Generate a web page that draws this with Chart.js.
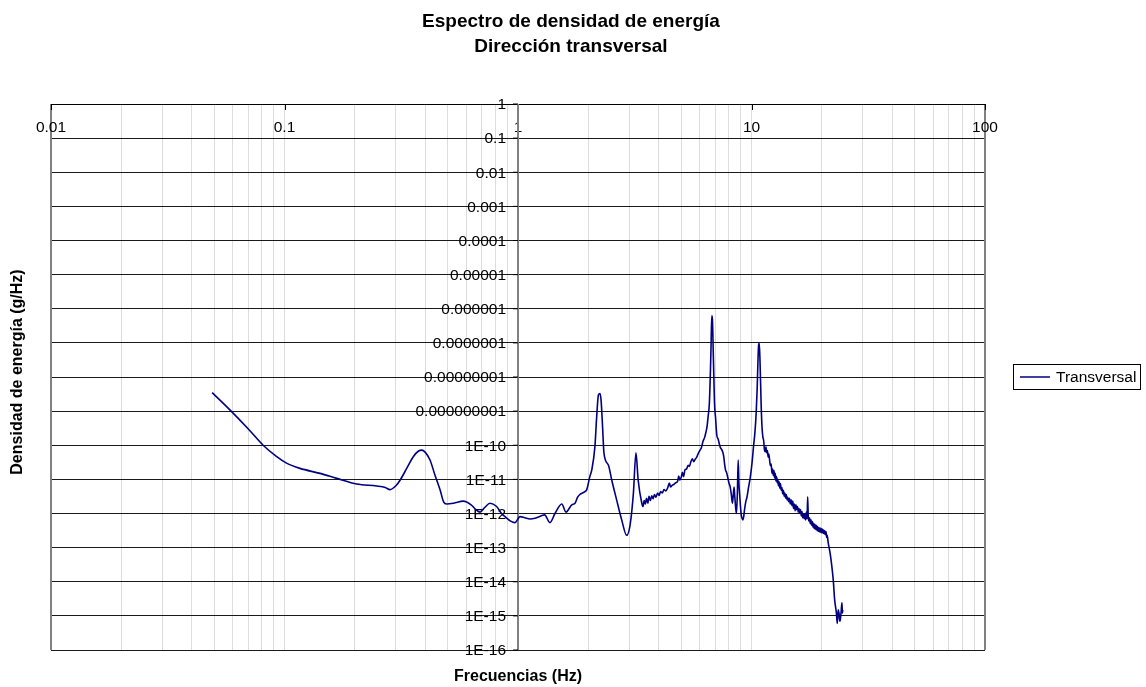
<!DOCTYPE html>
<html>
<head>
<meta charset="utf-8">
<title>Espectro de densidad de energía</title>
<script src="https://cdn.jsdelivr.net/npm/chart.js@4.4.0/dist/chart.umd.min.js"></script>
<style>
  html, body { margin: 0; padding: 0; background: #fff; }
  #wrap { width: 1146px; height: 687px; }
</style>
</head>
<body>
<div id="wrap"><canvas id="psdChart" width="1146" height="687"></canvas></div>
<script>
// Frequencies (Hz) and power spectral density (g/Hz), transverse direction
const freq = [
  0.049, 0.0585, 0.07, 0.081, 0.092, 0.102, 0.1165, 0.142, 0.1675, 0.204,
  0.248, 0.27, 0.283, 0.30, 0.313, 0.335, 0.356, 0.375, 0.387, 0.40,
  0.42, 0.44, 0.464, 0.48, 0.495, 0.53, 0.583, 0.63, 0.66, 0.688,
  0.72, 0.759, 0.81, 0.85, 0.88, 0.93, 0.97, 1.02, 1.07, 1.125,
  1.2, 1.30, 1.37, 1.44, 1.54, 1.605, 1.70, 1.755, 1.80, 1.84,
  1.935, 1.97, 2.03, 2.07, 2.135, 2.17, 2.21, 2.245, 2.27, 2.3,
  2.335, 2.44, 2.52, 2.645, 2.78, 2.92, 3.02, 3.12, 3.2, 3.27,
  3.39, 3.43, 3.47, 3.51, 3.55, 3.6, 3.64, 3.69, 3.74, 3.79,
  3.84, 3.9, 3.96, 4.02, 4.08, 4.15, 4.22, 4.3, 4.38, 4.45,
  4.5, 4.58, 4.66, 4.74, 4.82, 4.88, 4.93, 5.0, 5.06, 5.12,
  5.19, 5.27, 5.35, 5.42, 5.5, 5.58, 5.66, 5.74, 5.82, 5.9,
  6.02, 6.1, 6.2, 6.3, 6.38, 6.45, 6.52, 6.6, 6.67, 6.71,
  6.76, 6.8, 6.87, 6.94, 7.02, 7.1, 7.2, 7.28, 7.36, 7.45,
  7.52, 7.6, 7.68, 7.74, 7.82, 7.9, 8.0, 8.1, 8.2, 8.28,
  8.34, 8.42, 8.48, 8.56, 8.62, 8.7, 8.77, 8.83, 8.89, 8.96,
  9.04, 9.11, 9.18, 9.26, 9.35, 9.45, 9.57, 9.7, 9.89, 10.05,
  10.2, 10.35, 10.47, 10.58, 10.65, 10.72, 10.79, 10.86, 10.93, 11.0,
  11.09, 11.18, 11.27, 11.36, 11.46, 11.53, 11.6, 11.7, 11.78, 11.86,
  11.95, 12.05, 12.14, 12.24, 12.32, 12.4, 12.48, 12.56, 12.64, 12.72,
  12.8, 12.88, 12.96, 13.05, 13.14, 13.22, 13.3, 13.4, 13.5, 13.6,
  13.7, 13.8, 13.9, 14.0, 14.1, 14.2, 14.3, 14.42, 14.54, 14.66,
  14.78, 14.9, 15.02, 15.14, 15.26, 15.38, 15.5, 15.62, 15.74, 15.86,
  15.98, 16.1, 16.22, 16.34, 16.46, 16.58, 16.7, 16.82, 16.94, 17.06,
  17.18, 17.3, 17.4, 17.5, 17.62, 17.74, 17.86, 17.98, 18.1, 18.22,
  18.34, 18.46, 18.58, 18.7, 18.82, 18.94, 19.06, 19.18, 19.3, 19.42,
  19.54, 19.66, 19.78, 19.9, 20.02, 20.14, 20.26, 20.38, 20.5, 20.62,
  20.74, 20.86, 20.98, 21.1, 21.3, 21.5, 21.7, 22.0, 22.4, 22.7,
  23.1, 23.3, 23.5, 23.7, 23.9, 24.0, 24.2, 24.4, 24.5, 24.6
];
const psd = [
  3.5e-9, 1.07e-9, 3.0e-10, 1.0e-10, 4.8e-11, 3.0e-11, 2.1e-11, 1.5e-11, 1.07e-11, 7.3e-12,
  6.4e-12, 5.8e-12, 5.0e-12, 6.5e-12, 9.6e-12, 2.2e-11, 4.6e-11, 6.8e-11, 7.2e-11, 6.3e-11,
  3.7e-11, 1.4e-11, 4.9e-12, 2.2e-12, 1.9e-12, 2.0e-12, 2.3e-12, 1.8e-12, 1.3e-12, 1.1e-12,
  1.5e-12, 2.0e-12, 1.6e-12, 1.0e-12, 8.1e-13, 6.0e-13, 5.4e-13, 8.1e-13, 7.5e-13, 6.9e-13,
  7.5e-13, 9.1e-13, 5.4e-13, 1.0e-12, 1.9e-12, 1.1e-12, 1.8e-12, 2.0e-12, 3.0e-12, 3.6e-12,
  4.4e-12, 5.0e-12, 1.2e-11, 1.9e-11, 9.1e-11, 6.0e-10, 2.97e-9, 3.3e-9, 2.0e-9, 4.0e-10,
  5.8e-11, 2.6e-11, 9.6e-12, 2.5e-12, 6.5e-13, 2.3e-13, 4.6e-13, 3.9e-12, 6.0e-11, 9.6e-12,
  2.0e-12, 1.6e-12, 2.4e-12, 1.9e-12, 2.8e-12, 2.0e-12, 3.2e-12, 2.4e-12, 3.3e-12, 2.7e-12,
  3.6e-12, 3.0e-12, 4.0e-12, 3.4e-12, 4.4e-12, 4.0e-12, 5.0e-12, 4.6e-12, 5.8e-12, 7.8e-12,
  6.0e-12, 6.8e-12, 7.2e-12, 8.0e-12, 8.6e-12, 1.25e-11, 9.5e-12, 1.15e-11, 1.6e-11, 1.2e-11,
  1.9e-11, 2.0e-11, 2.6e-11, 2.4e-11, 3.3e-11, 4.0e-11, 3.3e-11, 3.9e-11, 4.4e-11, 5.5e-11,
  7.2e-11, 8.5e-11, 1.3e-10, 1.7e-10, 2.4e-10, 3.5e-10, 7.0e-10, 1.7e-9, 1.5e-8, 7.7e-8,
  6.2e-7, 5.0e-7, 3.2e-8, 1.9e-9, 6.0e-10, 2.0e-10, 1.5e-10, 1.1e-10, 8.5e-11, 7.5e-11,
  6.5e-11, 4.8e-11, 2.6e-11, 1.9e-11, 1.6e-11, 1.2e-11, 8.0e-12, 6.1e-12, 3.5e-12, 2.0e-12,
  3.0e-12, 6.0e-12, 3.2e-12, 1.4e-12, 1.0e-12, 4.0e-12, 3.7e-11, 8.0e-12, 3.9e-12, 1.8e-12,
  9.0e-13, 7.2e-13, 6.5e-13, 8.1e-13, 1.4e-12, 2.2e-12, 3.1e-12, 5.5e-12, 1.2e-11, 3.0e-11,
  9.1e-11, 2.5e-10, 8.7e-10, 5.0e-9, 2.5e-8, 8.0e-8, 9.8e-8, 4.0e-8, 8.1e-9, 1.5e-9,
  3.5e-10, 1.8e-10, 1.4e-10, 7.5e-11, 6.5e-11, 9.0e-11, 6.0e-11, 7.0e-11, 4.5e-11, 5.5e-11,
  3.8e-11, 2.5e-11, 2.8e-11, 1.5e-11, 2.0e-11, 1.3e-11, 1.8e-11, 1.1e-11, 1.5e-11, 9.0e-12,
  1.2e-11, 8.0e-12, 1.0e-11, 6.5e-12, 8.5e-12, 5.5e-12, 7.5e-12, 4.8e-12, 5.8e-12, 3.8e-12,
  4.8e-12, 3.2e-12, 4.0e-12, 2.8e-12, 3.6e-12, 2.5e-12, 3.0e-12, 2.2e-12, 2.8e-12, 1.9e-12,
  2.5e-12, 1.7e-12, 2.3e-12, 1.4e-12, 1.9e-12, 1.2e-12, 1.8e-12, 1.3e-12, 1.6e-12, 1.1e-12,
  1.4e-12, 1.0e-12, 1.3e-12, 8.5e-13, 1.15e-12, 7.5e-13, 1.0e-12, 7.0e-13, 9.5e-13, 6.5e-13,
  1.1e-12, 7.0e-13, 3.1e-12, 8.0e-13, 6.0e-13, 7.5e-13, 5.0e-13, 6.5e-13, 4.5e-13, 5.8e-13,
  4.0e-13, 5.2e-13, 3.6e-13, 4.8e-13, 3.4e-13, 4.5e-13, 3.2e-13, 4.2e-13, 3.0e-13, 3.9e-13,
  2.9e-13, 3.8e-13, 2.8e-13, 3.6e-13, 2.7e-13, 3.5e-13, 2.6e-13, 3.3e-13, 2.5e-13, 3.1e-13,
  2.4e-13, 2.9e-13, 2.0e-13, 2.3e-13, 1.4e-13, 1.0e-13, 7.0e-14, 3.5e-14, 1.1e-14, 3.0e-15,
  1.2e-15, 6.0e-16, 1.5e-15, 1.2e-15, 7.0e-16, 7.6e-16, 1.3e-15, 2.4e-15, 1.2e-15, 1.5e-15
];

// Axis ticks
const xMajor = [0.01, 0.1, 1, 10, 100];
const xMajorLabels = ['0.01', '0.1', '1', '10', '100'];
const yMajor = [1, 1e-1, 1e-2, 1e-3, 1e-4, 1e-5, 1e-6, 1e-7, 1e-8, 1e-9,
                1e-10, 1e-11, 1e-12, 1e-13, 1e-14, 1e-15, 1e-16];
const yMajorLabels = ['1', '0.1', '0.01', '0.001', '0.0001', '0.00001', '0.000001',
                      '0.0000001', '0.00000001', '0.000000001', '1E-10', '1E-11',
                      '1E-12', '1E-13', '1E-14', '1E-15', '1E-16'];

const FONT = '"Liberation Sans", Arial, sans-serif';

// vertical grid at 1..9 of every decade
const xGrid = [];
for (let d = -2; d < 2; d++) {
  for (let m = 1; m < 10; m++) xGrid.push(m * Math.pow(10, d));
}
xGrid.push(100);

const axesPlugin = {
  id: 'excelAxes',
  beforeDatasetsDraw(chart) {
    const { ctx, chartArea: a, scales: { x, y } } = chart;
    const x1 = Math.round(x.getPixelForValue(1));
    ctx.save();

    // plot frame
    ctx.strokeStyle = '#808080';
    ctx.lineWidth = 2;
    ctx.beginPath();
    ctx.moveTo(a.left, a.top); ctx.lineTo(a.left, a.bottom);
    ctx.moveTo(a.right, a.top); ctx.lineTo(a.right, a.bottom);
    ctx.stroke();

    // x axis sits on y = 1 (top edge)
    ctx.strokeStyle = '#000';
    ctx.lineWidth = 1;
    ctx.beginPath();
    ctx.moveTo(a.left, a.top + 0.5); ctx.lineTo(a.right, a.top + 0.5);
    xMajor.forEach(v => {
      const px = Math.round(x.getPixelForValue(v)) + 0.5;
      ctx.moveTo(px, a.top); ctx.lineTo(px, a.top + 6);
    });
    ctx.stroke();

    ctx.fillStyle = '#000';
    ctx.font = '15.5px ' + FONT;
    ctx.textAlign = 'center';
    ctx.textBaseline = 'middle';
    xMajor.forEach((v, i) => {
      ctx.fillText(xMajorLabels[i], x.getPixelForValue(v), a.top + 24);
    });

    // y axis crosses at x = 1
    ctx.strokeStyle = '#808080';
    ctx.lineWidth = 2;
    ctx.beginPath();
    ctx.moveTo(x1, a.top); ctx.lineTo(x1, a.bottom);
    ctx.stroke();
    ctx.strokeStyle = '#000';
    ctx.lineWidth = 1;
    ctx.beginPath();
    yMajor.forEach(v => {
      const py = y.getPixelForValue(v);
      ctx.moveTo(x1 - 5, py); ctx.lineTo(x1, py);
    });
    ctx.stroke();

    ctx.textAlign = 'right';
    yMajor.forEach((v, i) => {
      ctx.fillText(yMajorLabels[i], x1 - 12, y.getPixelForValue(v) + 1);
    });
    ctx.restore();
  },
  afterDraw(chart) {
    const { ctx, chartArea: a } = chart;
    ctx.save();
    ctx.fillStyle = '#000';
    ctx.textAlign = 'center';
    ctx.textBaseline = 'middle';

    // chart title
    ctx.font = 'bold 19px ' + FONT;
    ctx.fillText('Espectro de densidad de energía', 571, 22);
    ctx.fillText('Dirección transversal', 571, 47);

    // axis titles
    ctx.font = 'bold 16px ' + FONT;
    ctx.fillText('Frecuencias (Hz)', (a.left + a.right) / 2, 677);
    ctx.translate(18, 372);
    ctx.rotate(-Math.PI / 2);
    ctx.fillText('Densidad de energía (g/Hz)', 0, 0);
    ctx.restore();

    // legend
    ctx.save();
    ctx.strokeStyle = '#000';
    ctx.lineWidth = 1;
    ctx.strokeRect(1013.5, 364.5, 127, 25);
    ctx.strokeStyle = '#000080';
    ctx.lineWidth = 1.5;
    ctx.beginPath();
    ctx.moveTo(1020, 377); ctx.lineTo(1050, 377);
    ctx.stroke();
    ctx.fillStyle = '#000';
    ctx.font = '15.5px ' + FONT;
    ctx.textAlign = 'left';
    ctx.textBaseline = 'middle';
    ctx.fillText('Transversal', 1056, 378);
    ctx.restore();
  }
};

new Chart(document.getElementById('psdChart'), {
  type: 'line',
  data: {
    datasets: [{
      label: 'Transversal',
      data: freq.map((f, i) => ({ x: f, y: psd[i] })),
      borderColor: '#000080',
      borderWidth: 1.6,
      pointRadius: 0,
      cubicInterpolationMode: 'monotone',
      fill: false
    }]
  },
  options: {
    responsive: false,
    animation: false,
    layout: { padding: { left: 51, right: 161, top: 104, bottom: 37 } },
    plugins: {
      legend: { display: false },
      title: { display: false },
      tooltip: { enabled: false }
    },
    scales: {
      x: {
        type: 'logarithmic',
        min: 0.01,
        max: 100,
        afterBuildTicks: s => { s.ticks = xGrid.map(v => ({ value: v })); },
        ticks: { display: false },
        grid: { color: '#dcdcdc', lineWidth: 1, drawTicks: false },
        border: { display: false }
      },
      y: {
        type: 'logarithmic',
        min: 1e-16,
        max: 1,
        afterBuildTicks: s => { s.ticks = yMajor.map(v => ({ value: v })); },
        ticks: { display: false },
        grid: { color: '#1a1a1a', lineWidth: 1, drawTicks: false },
        border: { display: false }
      }
    }
  },
  plugins: [axesPlugin]
});
</script>
</body>
</html>
